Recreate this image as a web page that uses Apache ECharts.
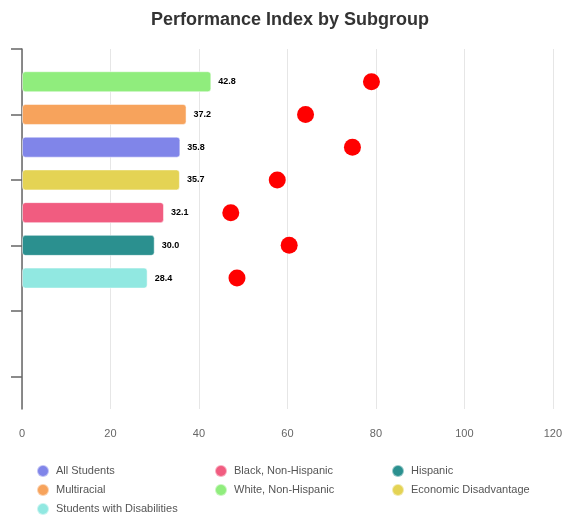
<!DOCTYPE html>
<html>
<head>
<meta charset="utf-8">
<script src="https://cdn.jsdelivr.net/npm/echarts@6/dist/echarts.min.js"></script>
<style>
  html, body { margin: 0; padding: 0; background: #fff; }
  #chart { width: 565px; height: 519px; }
</style>
</head>
<body>
<div id="chart"></div>
<script>
// subgroups in legend order
const subgroups = ['All Students', 'Black, Non-Hispanic', 'Hispanic', 'Multiracial', 'White, Non-Hispanic', 'Economic Disadvantage', 'Students with Disabilities'];
const performanceIndex = [35.8, 32.1, 30.0, 37.2, 42.8, 35.7, 28.4];
const targetDots = [74.7, 47.2, 60.4, 64.1, 79.0, 57.7, 48.6];
const colors = ['#8085e9', '#f15c80', '#2b908f', '#f7a35c', '#90ed7d', '#e4d354', '#91e8e1'];
// row of each subgroup on the category axis (0 = top slot, left empty)
const rowSlot = [3, 5, 6, 2, 1, 4, 7];
const slotCount = 12;
const xTicks = [0, 20, 40, 60, 80, 100, 120];

const chart = echarts.init(document.getElementById('chart'));
const font = "'Liberation Sans', Arial, sans-serif";

const slots = [];
for (let i = 0; i < slotCount; i++) slots.push('s' + i);

const barSeries = subgroups.map(function (name, i) {
    const data = slots.map(function () { return '-'; });
    data[rowSlot[i]] = performanceIndex[i];
    return {
        name: name,
        type: 'bar',
        stack: 'pi',
        barWidth: 21,
        data: data,
        itemStyle: { color: colors[i], borderRadius: 3, borderColor: 'rgba(255,255,255,0.5)', borderWidth: 1 },
        label: {
            show: true,
            position: 'right',
            distance: 7,
            fontFamily: font,
            fontSize: 9,
            fontWeight: 'bold',
            color: '#000',
            textBorderColor: '#fff',
            textBorderWidth: 1,
            formatter: function (p) { return Number(p.value).toFixed(1); }
        }
    };
});

const dotSeries = {
    name: 'Target',
    type: 'scatter',
    symbolSize: 17,
    z: 5,
    itemStyle: { color: '#ff0000', opacity: 1 },
    data: subgroups.map(function (name, i) { return [targetDots[i], rowSlot[i]]; })
};

function legendCol(names, left) {
    return {
        orient: 'vertical',
        left: left,
        top: 464,
        height: 55,
        padding: 0,
        icon: 'circle',
        itemWidth: 12,
        itemHeight: 12,
        itemGap: 5,
        selectedMode: false,
        textStyle: { fontFamily: font, fontSize: 11, color: '#555', padding: [0, 0, 0, 2] },
        data: names
    };
}

chart.setOption({
    animation: false,
    color: colors,
    title: {
        text: 'Performance Index by Subgroup',
        left: 146,
        top: 6,
        textStyle: { fontFamily: font, fontSize: 18, fontWeight: 'bold', color: '#333' }
    },
    legend: [
        legendCol([subgroups[0], subgroups[3], subgroups[6]], 36),
        legendCol([subgroups[1], subgroups[4]], 214),
        legendCol([subgroups[2], subgroups[5]], 391)
    ],
    grid: { left: 22, right: 3, top: 49, bottom: 110, containLabel: false },
    xAxis: {
        type: 'value',
        min: xTicks[0],
        max: xTicks[xTicks.length - 1],
        interval: xTicks[1] - xTicks[0],
        axisLine: { show: false },
        axisTick: { show: false },
        axisLabel: { fontFamily: font, fontSize: 11, color: '#666', margin: 19 },
        splitLine: { lineStyle: { color: '#e6e6e6' } }
    },
    yAxis: {
        type: 'category',
        inverse: true,
        boundaryGap: false,
        data: slots,
        axisLine: { lineStyle: { color: '#666', width: 1.5 } },
        axisTick: { interval: 1, length: 11, lineStyle: { color: '#666', width: 1.5 } },
        axisLabel: { show: false },
        splitLine: { show: false }
    },
    series: barSeries.concat([dotSeries])
});
</script>
</body>
</html>
